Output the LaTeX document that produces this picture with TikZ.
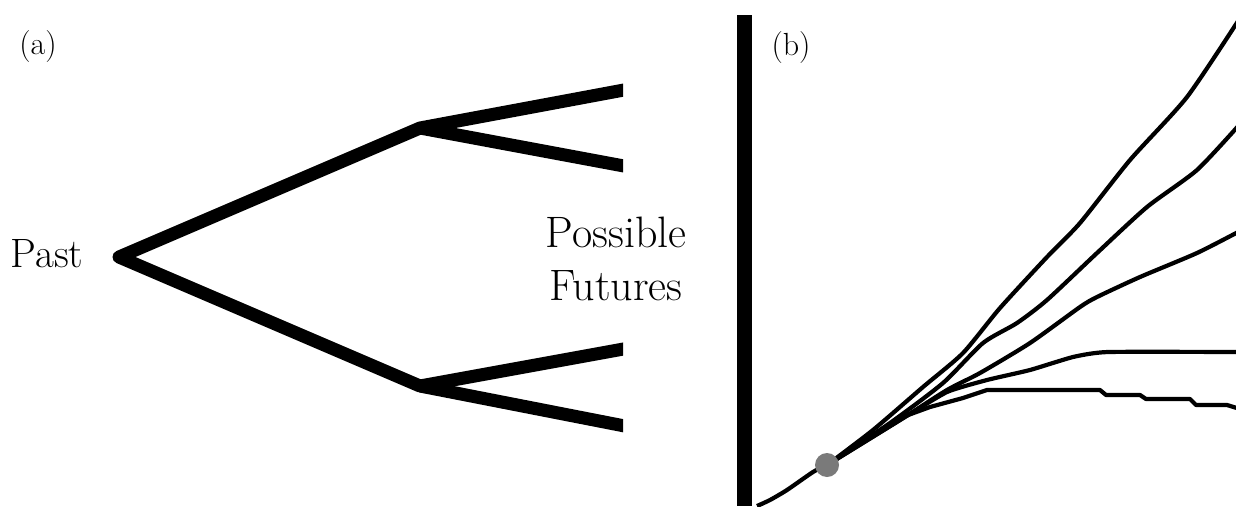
\documentclass[tikz,border=0pt]{standalone}
\usetikzlibrary{decorations.pathmorphing}
\begin{document}
\begin{tikzpicture}[x=1pt,y=-1pt,
  branch/.style={line width=13pt,line join=round,line cap=butt},
  label/.style={inner sep=0pt,font=\fontsize{32}{38}\selectfont},
  word/.style={inner sep=0pt,anchor=base,font=\fontsize{41}{48}\selectfont},
  word2/.style={inner sep=0pt,anchor=base,font=\fontsize{44}{52}\selectfont},
  path/.style={line width=4.2pt,line join=round},
  bar/.style={fill=black}]
\useasboundingbox (0,0) rectangle (1236,506);
% panel (a)
\node[label] (la) at (38,47) {(a)};
\node[word] (past) at (47,267) {Past};
\node[word2] (poss) at (616,247) {Possible};
\node[word2] (fut) at (616,300) {Futures};
\coordinate (root) at (119,257);
\coordinate (up) at (420,128);
\coordinate (low) at (420,386);
\coordinate (ua) at (640,87);
\coordinate (ub) at (640,169);
\coordinate (lc) at (640,346);
\coordinate (ld) at (640,429);
\begin{scope}
\clip (0,0) rectangle (623,506);
\draw[branch] (ua) -- (up) -- (root) -- (low) -- (lc);
\draw[branch] (up) -- (ub);
\draw[branch] (low) -- (ld);
\end{scope}
% separator
\fill[bar] (737,15) rectangle (752,506);
% panel (b)
\node[label] (lb) at (791,48) {(b)};
\begin{scope}
\clip (752,0) rectangle (1236,506);
\draw[path] plot[smooth,tension=0.4] coordinates {(757,506) (770,500) (787,490) (813,472) (827,465)};
\draw[path] plot[smooth,tension=0.4] coordinates {(827,465) (873,430) (923,387) (963,353) (1000,308) (1047,257) (1080,223) (1130,160) (1187,97) (1240,18)};
\draw[path] plot[smooth,tension=0.4] coordinates {(827,465) (890,423) (943,383) (983,343) (1017,323) (1047,300) (1097,253) (1147,207) (1197,170) (1240,124)};
\draw[path] plot[smooth,tension=0.4] coordinates {(827,465) (900,420) (947,390) (980,373) (1030,343) (1080,307) (1097,297) (1140,277) (1197,253) (1240,231)};
\draw[path] plot[smooth,tension=0.3] coordinates {(827,465) (900,420) (947,392) (987,380) (1030,370) (1073,357) (1108,352) (1240,352)};
\draw[path] plot[sharp plot] coordinates {(827,465) (900,418) (930,407) (963,398) (987,390) (1100,390) (1106,395) (1140,395) (1146,399) (1190,399) (1196,405) (1227,405) (1240,409)};
\end{scope}
\node[circle,fill=black!52,minimum size=24pt,inner sep=0pt] (dot) at (827,465) {};
\end{tikzpicture}
\end{document}
